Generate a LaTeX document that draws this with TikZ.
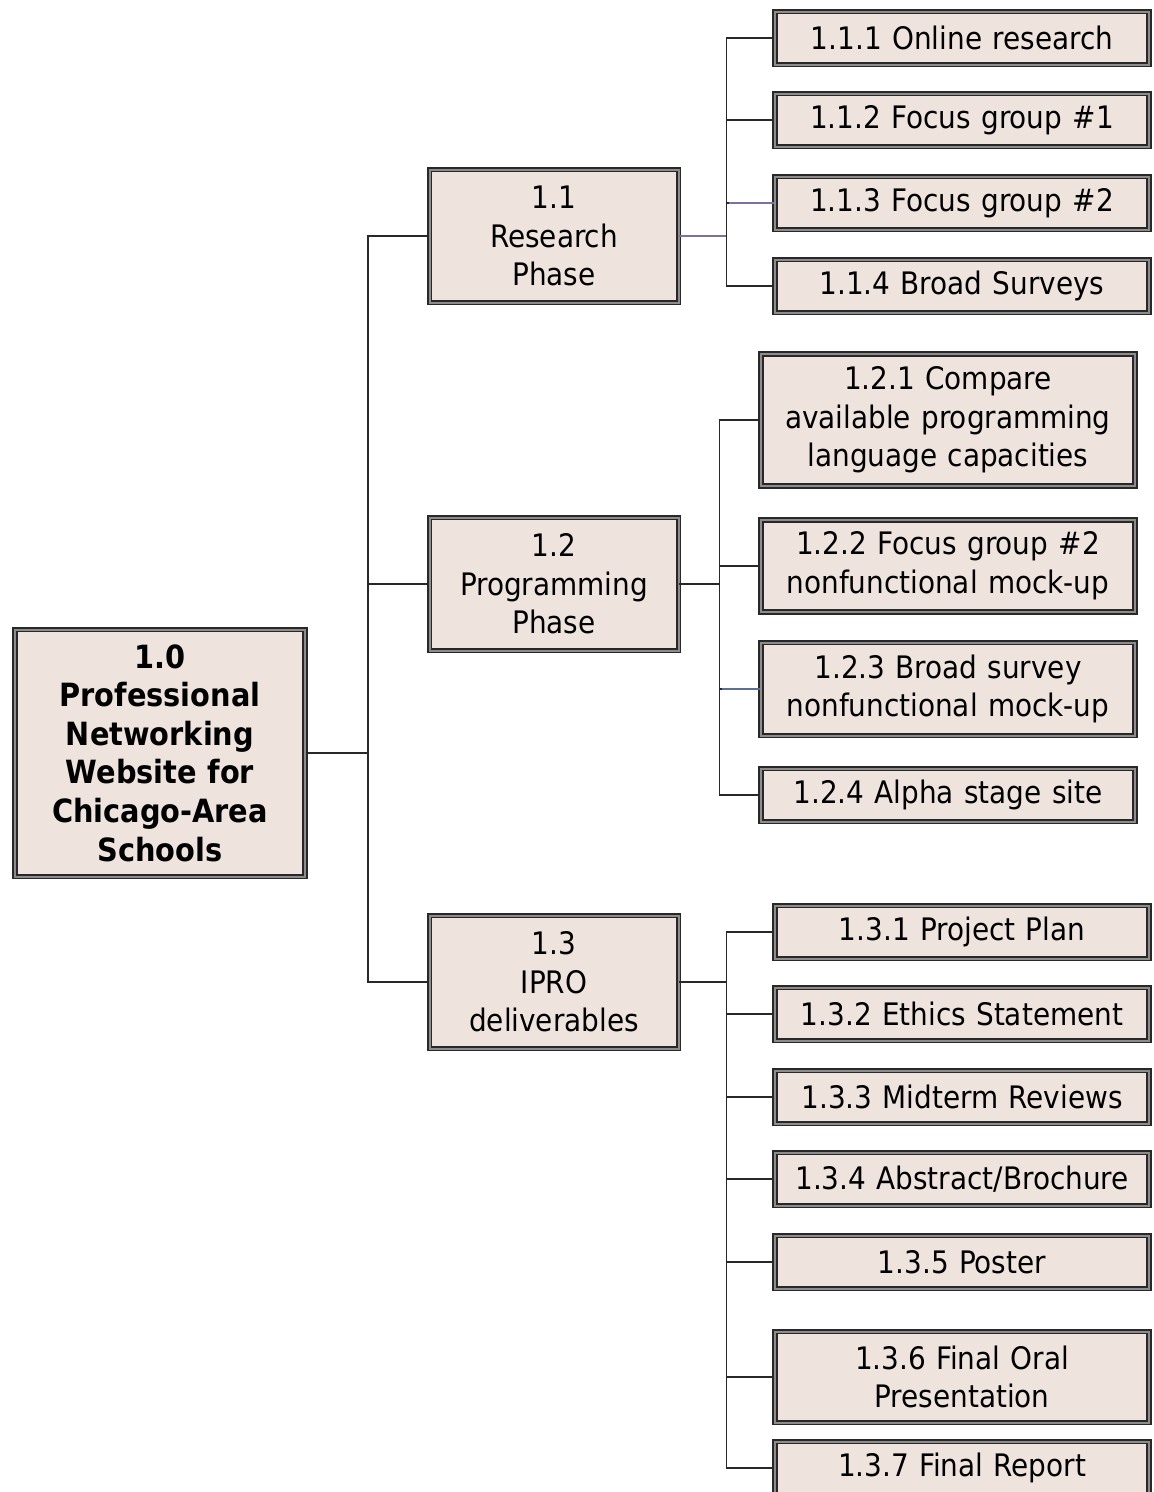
\documentclass[tikz,border=0pt]{standalone}
\usepackage{fontspec}
\setmainfont{DejaVu Sans Condensed}
\usepackage{tikz}
\usetikzlibrary{calc,positioning}

\definecolor{boxfill}{RGB}{238,228,221}
\definecolor{boxline}{RGB}{40,40,40}
\definecolor{boxgap}{RGB}{140,140,140}
\definecolor{tintline}{RGB}{125,112,160}
\definecolor{blueline}{RGB}{90,110,150}

\tikzset{
  wbs/.style={draw=boxline, line width=1.7pt, double=boxgap, double distance=2pt,
    fill=boxfill, align=center, inner sep=2pt, font=\fontsize{31}{38.6}\selectfont},
  rootbox/.style={wbs, minimum width=290, minimum height=247, text width=280,
    font=\fontsize{32}{38.6}\selectfont\bfseries},
  phasebox/.style={wbs, minimum width=249, minimum height=133, text width=240},
  taskbox/.style={wbs, minimum width=374, text width=364},
  link/.style={draw=boxline, line width=1.4pt},
  tint/.style={draw=tintline, line width=1.1pt}
}

\begin{document}
\begin{tikzpicture}[x=1pt,y=-1pt]
    \useasboundingbox (0,0) rectangle (1154,1492);
    \clip (0,0) rectangle (1154,1492);

    % top of the tree
    \node[rootbox] (root) at (160,753) {1.0\\Professional\\Networking\\Website for\\Chicago-Area\\Schools};

    % phases
    \node[phasebox] (p11) at (554,236) {1.1\\Research\\Phase};
    \node[phasebox] (p12) at (554,584) {1.2\\Programming\\Phase};
    \node[phasebox] (p13) at (554,982) {1.3\\IPRO\\deliverables};

    % research tasks
    \node[taskbox, minimum height=53] (t111) at (962,38) {1.1.1 Online research};
    \node[taskbox, minimum height=53] (t112) at (962,120) {1.1.2 Focus group \#1};
    \node[taskbox, minimum height=53] (t113) at (962,203) {1.1.3 Focus group \#2};
    \node[taskbox, minimum height=53] (t114) at (962,286) {1.1.4 Broad Surveys};

    % programming tasks
    \node[taskbox, minimum height=132] (t121) at (948,420) {1.2.1 Compare\\available programming\\language capacities};
    \node[taskbox, minimum height=92] (t122) at (948,566) {1.2.2 Focus group \#2\\nonfunctional mock-up};
    \node[taskbox, minimum height=93] (t123) at (948,689) {1.2.3 Broad survey\\nonfunctional mock-up};
    \node[taskbox, minimum height=53] (t124) at (948,795) {1.2.4 Alpha stage site};

    % deliverables
    \node[taskbox, minimum height=53] (t131) at (962,932) {1.3.1 Project Plan};
    \node[taskbox, minimum height=53] (t132) at (962,1014) {1.3.2 Ethics Statement};
    \node[taskbox, minimum height=53] (t133) at (962,1097) {1.3.3 Midterm Reviews};
    \node[taskbox, minimum height=53] (t134) at (962,1179) {1.3.4 Abstract/Brochure};
    \node[taskbox, minimum height=53] (t135) at (962,1262) {1.3.5 Poster};
    \node[taskbox, minimum height=91] (t136) at (962,1377) {1.3.6 Final Oral\\Presentation};
    \node[taskbox, minimum height=53] (t137) at (962,1468) {1.3.7 Final Report};

    % connectors
    \foreach \p in {p11,p12,p13}
        \draw[link] (root.east) -- ++(62,0) |- (\p.west);
    \foreach \t in {t111,t112,t113,t114}
        \draw[link] (p11.east) -- ++(47,0) |- (\t.west);
    \foreach \t in {t121,t122,t123,t124}
        \draw[link] (p12.east) -- ++(40,0) |- (\t.west);
    \foreach \t in {t131,t132,t133,t134,t135,t136,t137}
        \draw[link] (p13.east) -- ++(47,0) |- (\t.west);
    \draw[tint] (p11.east) -- ++(47,0);
    \draw[tint] (t113.west) -- ++(-45,0);
    \draw[tint, draw=blueline] (t123.west) -- ++(-38,0);
\end{tikzpicture}
\end{document}
